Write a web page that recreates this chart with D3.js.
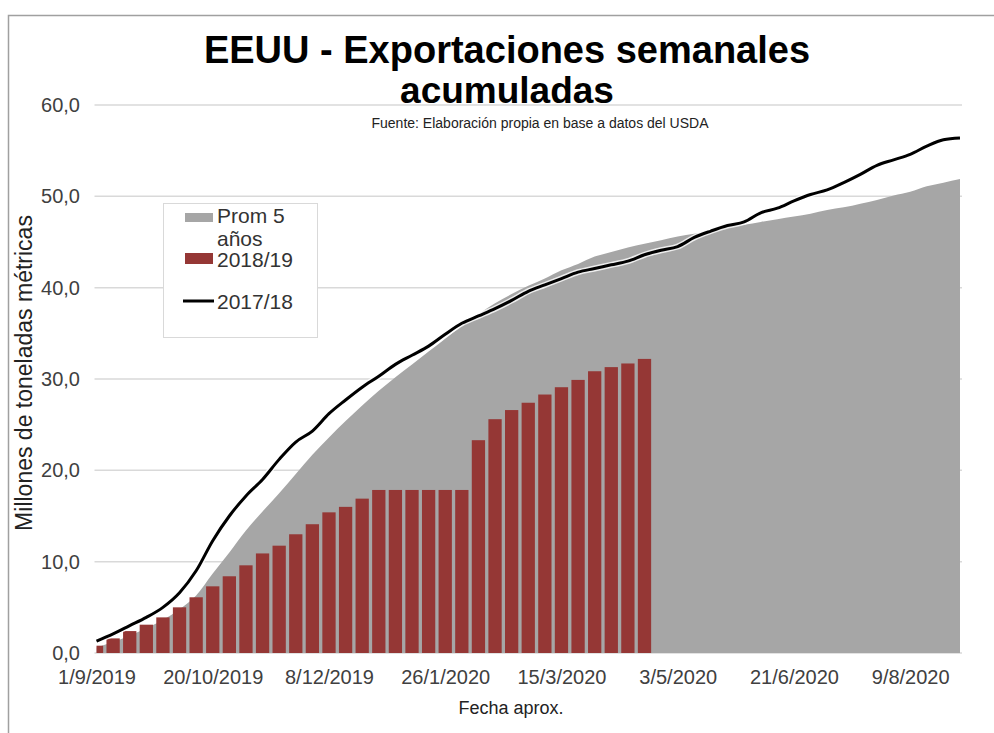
<!DOCTYPE html>
<html>
<head>
<meta charset="utf-8">
<script src="https://cdn.jsdelivr.net/npm/d3@7"></script>
<style>
  body { margin: 0; background: #fff; }
  text { font-family: "Liberation Sans", Arial, sans-serif; }
</style>
</head>
<body>
<svg id="chart"></svg>
<script>
// weekly categories start on 1/9/2019
const startDate = new Date(2019, 8, 1);
const nWeeks = 53;
const tickLabels = ["1/9/2019", "20/10/2019", "8/12/2019", "26/1/2020", "15/3/2020", "3/5/2020", "21/6/2020", "9/8/2020"];
const yTicks = [0, 10, 20, 30, 40, 50, 60];

// Prom 5 años (area)
const prom5 = [0.6, 1.2, 1.9, 2.7, 3.6, 4.8, 6.3, 8.7, 11.0, 13.4, 15.5, 17.5, 19.6, 21.7, 23.6,
  25.4, 27.1, 28.7, 30.2, 31.6, 33.0, 34.4, 35.8, 37.1, 38.3, 39.3, 40.2, 41.0, 41.9, 42.6,
  43.4, 43.9, 44.4, 44.8, 45.2, 45.6, 45.9, 46.3, 46.7, 46.9, 47.2, 47.5, 47.8, 48.1, 48.5,
  48.8, 49.2, 49.6, 50.1, 50.5, 51.1, 51.5, 51.9];
// 2018/19 (bars)
const s1819 = [0.8, 1.6, 2.4, 3.1, 3.9, 5.0, 6.1, 7.3, 8.4, 9.6, 10.9, 11.75, 13.0, 14.1, 15.4,
  16.0, 16.9, 17.85, 17.85, 17.85, 17.85, 17.85, 17.85, 23.3, 25.6, 26.6, 27.4, 28.3, 29.1, 29.9,
  30.85, 31.3, 31.7, 32.2];
// 2017/18 (line)
const s1718 = [1.3, 2.1, 3.0, 3.9, 5.0, 6.6, 9.0, 12.3, 15.0, 17.2, 19.0, 21.2, 23.1, 24.3, 26.2,
  27.7, 29.1, 30.3, 31.6, 32.6, 33.6, 34.9, 36.1, 36.9, 37.7, 38.6, 39.6, 40.3, 41.0, 41.7,
  42.1, 42.5, 42.9, 43.6, 44.1, 44.5, 45.5, 46.2, 46.8, 47.2, 48.2, 48.7, 49.5, 50.2, 50.7,
  51.5, 52.4, 53.4, 54.0, 54.6, 55.5, 56.2, 56.4];

const fmtDate = d3.timeFormat("%-d/%-m/%Y");
const weeks = d3.range(nWeeks).map(i => fmtDate(d3.timeDay.offset(startDate, 7 * i)));

const W = 994, H = 733;
const plot = { left: 96.5, right: 960, top: 105, bottom: 653 };

const svg = d3.select("#chart").attr("width", W).attr("height", H);

// outer frame
svg.append("rect")
  .attr("x", 8.5).attr("y", 15.5)
  .attr("width", W).attr("height", H)
  .attr("fill", "none").attr("stroke", "#a0a0a0").attr("stroke-width", 1.5);

const x = d3.scalePoint().domain(weeks).range([plot.left, plot.right]);
const y = d3.scaleLinear().domain([0, 60]).range([plot.bottom, plot.top]);
const barW = x.step() * 0.8;

svg.append("defs").append("clipPath").attr("id", "clip")
  .append("rect")
  .attr("x", plot.left).attr("y", 0)
  .attr("width", plot.right - plot.left).attr("height", plot.bottom);

// gridlines
svg.append("g")
  .selectAll("line")
  .data(yTicks)
  .join("line")
  .attr("x1", plot.left - 2).attr("x2", plot.right + 2)
  .attr("y1", d => y(d)).attr("y2", d => y(d))
  .attr("stroke", "#d9d9d9").attr("stroke-width", 1.5);

const g = svg.append("g").attr("clip-path", "url(#clip)");

// area
g.append("path")
  .datum(prom5)
  .attr("fill", "#a6a6a6")
  .attr("d", d3.area()
    .x((d, i) => x(weeks[i]))
    .y0(y(0))
    .y1(d => y(d))
    .curve(d3.curveMonotoneX));

// bars
g.selectAll(".bar")
  .data(s1819)
  .join("rect")
  .attr("class", "bar")
  .attr("x", (d, i) => x(weeks[i]) - barW / 2)
  .attr("y", d => y(d))
  .attr("width", barW)
  .attr("height", d => y(0) - y(d))
  .attr("fill", "#953735");

// line with light halo
const line = d3.line()
  .x((d, i) => x(weeks[i]))
  .y(d => y(d))
  .curve(d3.curveMonotoneX);

svg.append("path")
  .datum(s1718)
  .attr("fill", "none")
  .attr("stroke", "#fff").attr("stroke-opacity", 0.8)
  .attr("stroke-width", 6)
  .attr("d", line);

svg.append("path")
  .datum(s1718)
  .attr("fill", "none")
  .attr("stroke", "#000")
  .attr("stroke-width", 3)
  .attr("stroke-linejoin", "round")
  .attr("d", line);

// y axis
const locale = d3.formatLocale({ decimal: ",", thousands: ".", grouping: [3], currency: ["", ""] });
const yAxis = d3.axisLeft(y).tickValues(yTicks).tickFormat(locale.format(".1f")).tickSize(0).tickPadding(0);
svg.append("g")
  .attr("transform", `translate(80,0)`)
  .call(yAxis)
  .call(a => a.select(".domain").remove())
  .call(a => a.selectAll("text")
    .attr("font-size", 20).attr("fill", "#404040")
    .attr("font-family", "Liberation Sans, Arial, sans-serif"));

// x axis
const xAxis = d3.axisBottom(x).tickValues(tickLabels).tickSize(0).tickPadding(0);
svg.append("g")
  .attr("transform", `translate(0,${plot.bottom + 17})`)
  .call(xAxis)
  .call(a => a.select(".domain").remove())
  .call(a => a.selectAll("text")
    .attr("font-size", 20).attr("fill", "#404040")
    .attr("font-family", "Liberation Sans, Arial, sans-serif"));

// titles
svg.append("text")
  .attr("x", 507).attr("y", 63)
  .attr("text-anchor", "middle")
  .attr("font-size", 38).attr("font-weight", "bold")
  .text("EEUU - Exportaciones semanales");
svg.append("text")
  .attr("x", 507).attr("y", 103)
  .attr("text-anchor", "middle")
  .attr("font-size", 37).attr("font-weight", "bold")
  .text("acumuladas");
svg.append("text")
  .attr("x", 540).attr("y", 128)
  .attr("text-anchor", "middle")
  .attr("font-size", 14).attr("fill", "#222")
  .text("Fuente: Elaboración propia en base a datos del USDA");

svg.append("text")
  .attr("transform", "translate(32,373) rotate(-90)")
  .attr("text-anchor", "middle")
  .attr("font-size", 23).attr("fill", "#222")
  .text("Millones de toneladas métricas");

svg.append("text")
  .attr("x", 511).attr("y", 714)
  .attr("text-anchor", "middle")
  .attr("font-size", 18).attr("fill", "#222")
  .text("Fecha aprox.");

// legend
const leg = svg.append("g");
leg.append("rect")
  .attr("x", 163.5).attr("y", 203.5).attr("width", 154).attr("height", 134)
  .attr("fill", "#fff").attr("stroke", "#d9d9d9");
leg.append("rect").attr("x", 185).attr("y", 213).attr("width", 28).attr("height", 9).attr("fill", "#a6a6a6");
leg.append("rect").attr("x", 185).attr("y", 253).attr("width", 28).attr("height", 11).attr("fill", "#953735");
leg.append("line").attr("x1", 183).attr("x2", 214).attr("y1", 301).attr("y2", 301)
  .attr("stroke", "#000").attr("stroke-width", 3);
const legText = [["Prom 5", 223], ["años", 246], ["2018/19", 267], ["2017/18", 309]];
leg.selectAll(".lt")
  .data(legText)
  .join("text")
  .attr("class", "lt")
  .attr("x", 217).attr("y", d => d[1])
  .attr("font-size", 21).attr("fill", "#333")
  .text(d => d[0]);
</script>
</body>
</html>
